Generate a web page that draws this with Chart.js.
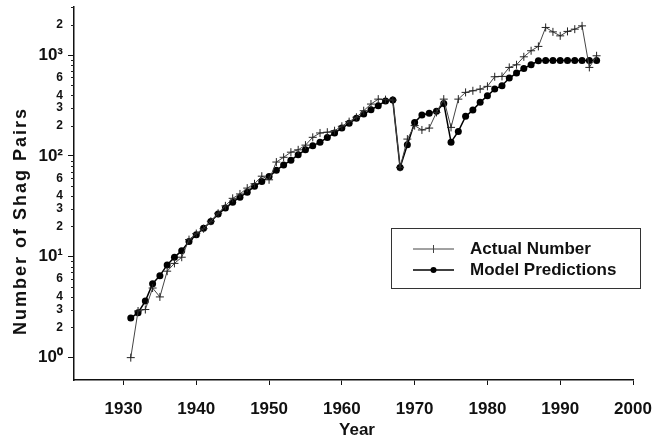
<!DOCTYPE html>
<html>
<head>
<meta charset="utf-8">
<script src="https://cdn.jsdelivr.net/npm/chart.js@4.4.0/dist/chart.umd.min.js"></script>
<style>
  html, body { margin: 0; padding: 0; background: #fff; }
  #wrap { width: 661px; height: 436px; }
</style>
</head>
<body>
<div id="wrap"><canvas id="shagChart"></canvas></div>
<script>
// years of the census
const years = [1931, 1932, 1933, 1934, 1935, 1936, 1937, 1938, 1939, 1940,
  1941, 1942, 1943, 1944, 1945, 1946, 1947, 1948, 1949, 1950,
  1951, 1952, 1953, 1954, 1955, 1956, 1957, 1958, 1959, 1960,
  1961, 1962, 1963, 1964, 1965, 1966, 1967, 1968, 1969, 1970,
  1971, 1972, 1973, 1974, 1975, 1976, 1977, 1978, 1979, 1980,
  1981, 1982, 1983, 1984, 1985, 1986, 1987, 1988, 1989, 1990,
  1991, 1992, 1993, 1994, 1995];

// counted pairs
const actualNumber = [1.0, 2.9, 3.0, 4.9, 4.0, 7.2, 8.6, 9.9, 14.8, 17,
  19, 22.5, 27, 32, 38, 42, 48, 53, 63, 58,
  87, 97, 109, 115, 128, 153, 169, 172, 178, 197,
  219, 242, 281, 327, 366, 362, 358, 77, 147, 200,
  181, 189, 270, 366, 192, 366, 427, 443, 460, 490,
  610, 615, 755, 802, 962, 1105, 1220, 1880, 1700, 1552,
  1718, 1809, 1950, 755, 985];

// model output
const modelPredictions = [2.47, 2.79, 3.64, 5.4, 6.5, 8.3, 9.9, 11.5, 14.2, 16.5,
  19.2, 22.4, 26.5, 30.4, 34.8, 39, 43.7, 50, 55.7, 62.4,
  72, 81.5, 90.6, 103, 115, 126, 137, 152, 169, 189,
  211, 236, 260, 287, 315, 350, 358, 77, 129, 215,
  255, 265, 277, 332, 137, 175, 247, 285, 340, 395,
  460, 497, 592, 663, 738, 802, 879, 885, 885, 885,
  885, 885, 885, 885, 885];

const xTickYears = [1930, 1940, 1950, 1960, 1970, 1980, 1990, 2000];
const yDecades = [1, 10, 100, 1000];
const yDecadeLabels = ['10\u2070', '10\u00B9', '10\u00B2', '10\u00B3'];
const yMinorLabels = [2, 3, 4, 6, 20, 30, 40, 60, 200, 300, 400, 600, 2000];

const FONT = "'Liberation Sans', Arial, Helvetica, sans-serif";
Chart.defaults.font.family = FONT;
Chart.defaults.color = '#111';

function toPoints(vals) {
  return years.map((yr, i) => ({ x: yr, y: vals[i] }));
}

function isDecade(v) {
  return yDecades.some(d => Math.abs(d - v) < 1e-6);
}

// axis titles, minor y ticks and the boxed legend
const extras = {
  id: 'extras',
  afterDraw(chart) {
    const ctx = chart.ctx;
    const y = chart.scales.y;
    ctx.save();

    // small ticks for the minor values
    ctx.strokeStyle = '#222';
    ctx.lineWidth = 1;
    y.ticks.forEach(t => {
      if (isDecade(t.value)) return;
      const py = Math.round(y.getPixelForValue(t.value)) + 0.5;
      ctx.beginPath();
      ctx.moveTo(y.right - 3, py);
      ctx.lineTo(y.right, py);
      ctx.stroke();
    });

    ctx.fillStyle = '#111';
    ctx.font = 'bold 18px ' + FONT;
    ctx.textAlign = 'center';
    ctx.textBaseline = 'middle';
    ctx.letterSpacing = '2px';
    ctx.translate(21, 221);
    ctx.rotate(-Math.PI / 2);
    ctx.fillText('Number of Shag Pairs', 0, 0);
    ctx.setTransform(1, 0, 0, 1, 0, 0);
    ctx.letterSpacing = '0px';

    ctx.font = 'bold 17px ' + FONT;
    ctx.fillText('Year', 357, 430);

    // legend
    const bx = 391, by = 228, bw = 249, bh = 60;
    ctx.strokeStyle = '#333';
    ctx.lineWidth = 1;
    ctx.strokeRect(bx + 0.5, by + 0.5, bw, bh);
    const rows = [
      { ds: chart.data.datasets[0], y: 249 },
      { ds: chart.data.datasets[1], y: 270 }
    ];
    rows.forEach(r => {
      ctx.strokeStyle = r.ds.borderColor;
      ctx.lineWidth = r.ds.borderWidth;
      ctx.beginPath();
      ctx.moveTo(413, r.y);
      ctx.lineTo(454, r.y);
      ctx.stroke();
      if (r.ds.pointStyle === 'cross') {
        ctx.lineWidth = 1;
        ctx.beginPath();
        ctx.moveTo(433.5, r.y - 4);
        ctx.lineTo(433.5, r.y + 4);
        ctx.stroke();
      } else {
        ctx.fillStyle = r.ds.pointBackgroundColor;
        ctx.beginPath();
        ctx.arc(433.5, r.y, 3, 0, Math.PI * 2);
        ctx.fill();
      }
      ctx.fillStyle = '#111';
      ctx.font = 'bold 17px ' + FONT;
      ctx.textAlign = 'left';
      ctx.textBaseline = 'middle';
      ctx.fillText(r.ds.label, 470, r.y);
    });
    ctx.restore();
  }
};

new Chart(document.getElementById('shagChart'), {
  type: 'line',
  data: {
    datasets: [
      {
        label: 'Actual Number',
        data: toPoints(actualNumber),
        borderColor: '#444',
        borderWidth: 1,
        pointStyle: 'cross',
        pointRadius: 4,
        pointBorderWidth: 1,
        pointBorderColor: '#222',
        pointBackgroundColor: '#222',
        tension: 0
      },
      {
        label: 'Model Predictions',
        data: toPoints(modelPredictions),
        borderColor: '#000',
        borderWidth: 1.5,
        pointStyle: 'circle',
        pointRadius: 3.5,
        pointBorderWidth: 0,
        pointBackgroundColor: '#000',
        tension: 0
      }
    ]
  },
  options: {
    responsive: true,
    maintainAspectRatio: false,
    animation: false,
    layout: { padding: { top: 7, right: 28, left: 0, bottom: 0 } },
    plugins: {
      legend: { display: false },
      tooltip: { enabled: false }
    },
    scales: {
      x: {
        type: 'linear',
        min: 1923.2,
        max: 2000,
        afterBuildTicks: scale => {
          scale.ticks = xTickYears.map(v => ({ value: v }));
        },
        afterFit: scale => {
          scale.height = 56;
          scale.paddingLeft = 0;
          scale.paddingRight = 0;
        },
        border: { display: true, color: '#111', width: 1.5 },
        grid: { drawOnChartArea: false, drawTicks: true, tickLength: 5, color: '#111' },
        ticks: {
          autoSkip: false,
          maxRotation: 0,
          padding: 14,
          color: '#111',
          font: { size: 17, weight: 'bold' },
          callback: v => String(v)
        },
        title: { display: false }
      },
      y: {
        type: 'logarithmic',
        min: 0.62,
        max: 3000,
        afterBuildTicks: scale => {
          const ticks = [];
          yDecades.forEach(d => {
            for (let k = 1; k <= 9; k++) {
              const v = d * k;
              if (v >= scale.min && v <= scale.max) ticks.push({ value: v, major: k === 1 });
            }
          });
          scale.ticks = ticks;
        },
        afterFit: scale => {
          scale.width = 74;
          scale.paddingTop = 0;
          scale.paddingBottom = 0;
        },
        border: { display: true, color: '#111', width: 1.5 },
        grid: {
          drawOnChartArea: false,
          drawTicks: true,
          tickLength: 6,
          color: ctx => (ctx.tick && isDecade(ctx.tick.value)) ? '#111' : 'rgba(0,0,0,0)'
        },
        ticks: {
          autoSkip: false,
          padding: 5,
          color: '#111',
          font: ctx => (ctx.tick && isDecade(ctx.tick.value))
            ? { size: 17, weight: 'bold' }
            : { size: 12, weight: 'bold' },
          callback: v => {
            const di = yDecades.findIndex(d => Math.abs(d - v) < 1e-6);
            if (di >= 0) return yDecadeLabels[di];
            if (yMinorLabels.some(m => Math.abs(m - v) < 1e-6)) {
              const p = Math.pow(10, Math.floor(Math.log10(v) + 1e-9));
              return String(Math.round(v / p));
            }
            return '';
          }
        },
        title: { display: false }
      }
    }
  },
  plugins: [extras]
});
</script>
</body>
</html>
